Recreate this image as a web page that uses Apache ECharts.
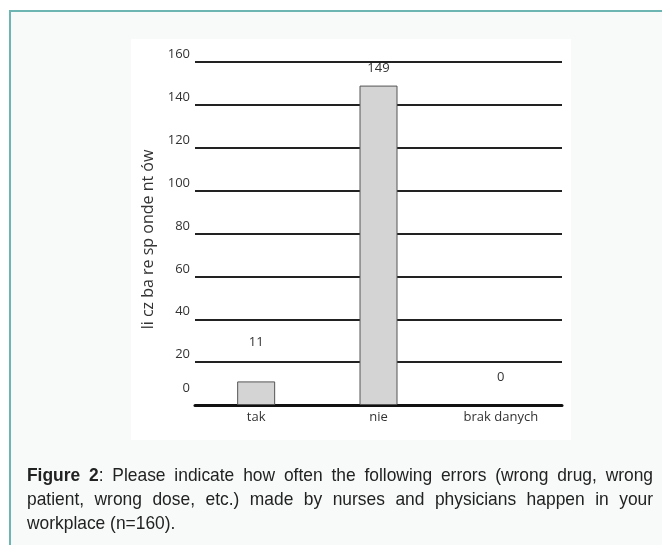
<!DOCTYPE html>
<html>
<head>
<meta charset="utf-8">
<script src="https://cdn.jsdelivr.net/npm/echarts@6/dist/echarts.min.js"></script>
<style>
  html, body { margin: 0; padding: 0; background: #fff; }
  .figure {
    position: absolute; left: 9px; top: 10px; width: 660px; height: 540px;
    border-left: 2px solid #6db5b3; border-top: 2px solid #6db5b3;
    background: #f8fafa;
  }
  .panel {
    position: absolute; left: 131px; top: 39px; width: 440px; height: 401px;
    background: #fff;
  }
  #chart { position: absolute; left: 0; top: 0; width: 662px; height: 545px; }
  /* caption font is a slightly condensed Arial; squeeze a regular one a bit */
  .caption {
    position: absolute; left: 27px; top: 463px; width: 666px;
    transform: scaleX(0.94); transform-origin: 0 0;
    font-family: "Liberation Sans", Arial, sans-serif; font-size: 18.5px;
    line-height: 24px; color: #222;
  }
  .caption .j { text-align: justify; text-align-last: justify; white-space: nowrap; }
</style>
</head>
<body>
<div class="figure"></div>
<div class="panel"></div>
<div id="chart"></div>
<div class="caption">
  <div class="j"><b>Figure 2</b>: Please indicate how often the following errors (wrong drug, wrong</div>
  <div class="j">patient, wrong dose, etc.) made by nurses and physicians happen in your</div>
  <div>workplace (n=160).</div>
</div>
<script>
var categories = ['tak', 'nie', 'brak danych']
var counts = [11, 149, 0]
var yName = 'li cz ba re sp onde nt ów'
// label gaps above the bars, as they sit in the original
var labelGaps = [33, 11, 21]

var chart = echarts.init(document.getElementById('chart'))
var font = '"Open Sans", sans-serif'

chart.setOption({
  animation: false,
  grid: { left: 195, right: 100, top: 62, bottom: 140 },
  xAxis: {
    type: 'category',
    data: categories,
    axisLine: { lineStyle: { color: '#111', width: 3 } },
    axisTick: { show: false },
    axisLabel: { color: '#333', fontSize: 13, fontFamily: font, margin: 6 }
  },
  yAxis: {
    type: 'value',
    min: 0,
    max: 160,
    interval: 20,
    name: yName,
    nameLocation: 'middle',
    nameGap: 38,
    nameRotate: 90,
    nameTextStyle: { color: '#333', fontSize: 16, fontFamily: font, padding: [0, 12, 0, 0] },
    axisLine: { show: false },
    axisTick: { show: false },
    splitLine: { lineStyle: { color: '#222', width: 2 } },
    axisLabel: {
      color: '#333', fontSize: 13, fontFamily: font, margin: 5,
      verticalAlign: 'bottom',
      formatter: function (v) { return v === 0 ? '{z|0}' : '{n|' + v + '}' },
      rich: {
        n: { fontSize: 13, fontFamily: font, color: '#333', padding: [0, 0, 1, 0] },
        z: { fontSize: 13, fontFamily: font, color: '#333', padding: [0, 0, 10, 0] }
      }
    }
  },
  series: [{
    type: 'bar',
    barWidth: 38,
    itemStyle: { color: '#d4d4d4', borderColor: '#555', borderWidth: 1 },
    data: counts.map(function (v, i) {
      return {
        value: v,
        itemStyle: v === 0 ? { borderWidth: 0 } : undefined,
        label: { show: true, position: 'top', distance: labelGaps[i], color: '#333', fontSize: 13, fontFamily: font }
      }
    })
  }]
})
</script>
</body>
</html>
